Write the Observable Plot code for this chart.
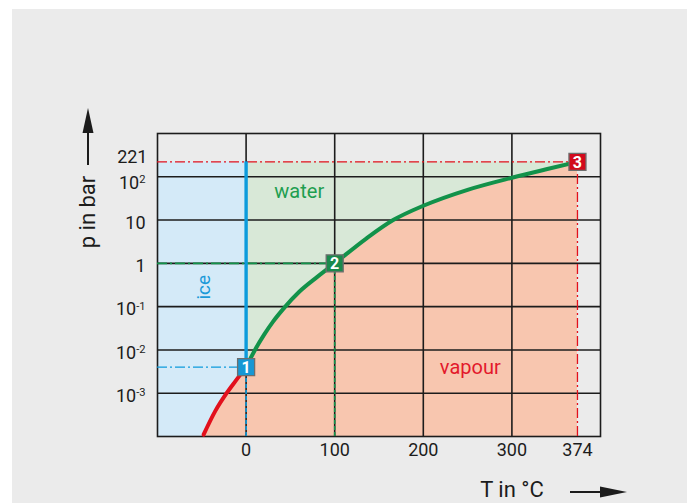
<!DOCTYPE html>
<html>
<head>
<meta charset="utf-8">
<script src="https://cdn.jsdelivr.net/npm/d3@7"></script>
<script src="https://cdn.jsdelivr.net/npm/@observablehq/plot@0.6"></script>
<style>
  html, body { margin: 0; padding: 0; background: #ffffff; }
  #wrap { position: relative; width: 687px; height: 503px; background: #ffffff; overflow: hidden; }
  #bg { position: absolute; left: 12px; top: 9px; right: 0; bottom: 0; background: #ebebeb; }
  #chart { position: absolute; left: 0; top: 0; }
</style>
</head>
<body>
<div id="wrap"><div id="bg"></div><div id="chart"></div></div>
<script>
(function() {
// ---- data ----
const xDomain = [-100, 400];          // T in °C
const yDomain = [1e-4, 1e3];          // p in bar (log)
const xGrid = [0, 100, 200, 300];
const yGrid = [1e-3, 1e-2, 1e-1, 1, 10, 100];
const xTicks = [0, 100, 200, 300, 374];
const xTickLabels = ["0", "100", "200", "300", "374"];
const yTicks = [1e-3, 1e-2, 1e-1, 1, 10, 100, 221];
const yTickLabels = ["10^-3", "10^-2", "10^-1", "1", "10", "10^2", "221"];

// sublimation curve (ice / vapour)
const subT = [-48, -35, -22, -12, 0];
const subP = [1.1e-4, 3.8e-4, 1e-3, 1.9e-3, 0.004];
// vapour pressure curve (water / vapour)
const vapT = [0, 10, 20, 30, 42, 60, 80, 100, 136, 166, 200, 250, 300, 340, 374];
const vapP = [0.004, 0.01, 0.022, 0.044, 0.089, 0.22, 0.48, 1, 3.8, 10, 21.4, 50, 95, 151, 221];

const tripleT = 0, tripleP = 0.004;
const boilT = 100, boilP = 1;
const critT = 374, critP = 221;

const markerNames = ["1", "2", "3"];
const markerT = [tripleT, boilT, critT];
const markerP = [tripleP, boilP, critP];

const regionNames = ["ice", "water", "vapour"];
const regionT = [-48, 60, 253];
const regionP = [0.28, 45, 0.004];

// ---- styles ----
const C = {
  ice: "#d4eaf8", water: "#d8e8d7", vapour: "#f8c6af",
  blue: "#0c9bdc", green: "#12924a", red: "#e2101c", grid: "#1c1c1c",
  m1: "#1797d4", m2: "#1a8a4c", m3: "#d20a1c",
  txtGreen: "#1e9e50", txtRed: "#e3192b", txtBlue: "#1b9ad8", ink: "#1c1c1c"
};
const FONT = "Roboto, 'DejaVu Sans', sans-serif";

const sub = subT.map((t, i) => ({T: t, p: subP[i]}));
const vap = vapT.map((t, i) => ({T: t, p: vapP[i]}));
const markers = markerNames.map((n, i) => ({n, T: markerT[i], p: markerP[i], c: [C.m1, C.m2, C.m3][i]}));
const regions = regionNames.map((n, i) => ({n, T: regionT[i], p: regionP[i]}));
const yTickData = yTicks.map((v, i) => ({v, label: yTickLabels[i]}));
const xTickData = xTicks.map((v, i) => ({v, label: xTickLabels[i]}));

const dashDot = "10,3,2,3";

const plot = Plot.plot({
  width: 687, height: 503,
  marginLeft: 157, marginRight: 87, marginTop: 133, marginBottom: 67,
  style: {background: "transparent", fontFamily: FONT, overflow: "visible"},
  x: {domain: xDomain, axis: null},
  y: {type: "log", domain: yDomain, axis: null},
  marks: [
    // regions
    Plot.rect([{x1: xDomain[0], x2: tripleT, y1: yDomain[0], y2: critP}], {x1: "x1", x2: "x2", y1: "y1", y2: "y2", fill: C.ice}),
    Plot.rect([{x1: tripleT, x2: critT, y1: yDomain[0], y2: critP}], {x1: "x1", x2: "x2", y1: "y1", y2: "y2", fill: C.water}),
    Plot.areaY(sub, {x: "T", y1: yDomain[0], y2: "p", fill: C.vapour, curve: "monotone-x"}),
    Plot.areaY(vap, {x: "T", y1: yDomain[0], y2: "p", fill: C.vapour, curve: "monotone-x"}),
    Plot.rect([{x1: -1, x2: 1, y1: yDomain[0], y2: tripleP}], {x1: "x1", x2: "x2", y1: "y1", y2: "y2", fill: C.vapour}),
    // grid + frame
    Plot.ruleX(xGrid, {stroke: C.grid, strokeWidth: 1.6}),
    Plot.ruleY(yGrid, {stroke: C.grid, strokeWidth: 1.6}),
    Plot.frame({stroke: C.grid, strokeWidth: 1.6}),
    // reference lines
    Plot.ruleY([tripleP], {x1: xDomain[0], x2: tripleT, stroke: C.blue, strokeWidth: 1.3, strokeDasharray: dashDot}),
    Plot.ruleX([tripleT], {y1: yDomain[0], y2: tripleP, stroke: C.blue, strokeWidth: 1.6, strokeDasharray: "4,2"}),
    Plot.ruleY([boilP], {x1: xDomain[0], x2: boilT, stroke: C.green, strokeWidth: 1.6, strokeDasharray: dashDot}),
    Plot.ruleX([boilT], {y1: yDomain[0], y2: boilP, stroke: C.green, strokeWidth: 1.6, strokeDasharray: "4,2"}),
    Plot.ruleY([critP], {x1: xDomain[0], x2: critT, stroke: C.red, strokeWidth: 1.3, strokeDasharray: dashDot}),
    Plot.ruleX([critT], {y1: yDomain[0], y2: critP, stroke: C.red, strokeWidth: 1.3, strokeDasharray: dashDot}),
    // phase boundaries
    Plot.ruleX([tripleT], {y1: tripleP, y2: critP, stroke: C.blue, strokeWidth: 3.4}),
    Plot.line(sub, {x: "T", y: "p", stroke: C.red, strokeWidth: 4, curve: "monotone-x", strokeLinecap: "round"}),
    Plot.line(vap, {x: "T", y: "p", stroke: C.green, strokeWidth: 4, curve: "monotone-x", strokeLinecap: "round"}),
    // markers
    Plot.dot(markers, {x: "T", y: "p", symbol: "square", r: 9.6, fill: "c", stroke: "#6e6e6e", strokeWidth: 1.3}),
    Plot.text(markers, {x: "T", y: "p", text: "n", fill: "white", fontSize: 16, fontWeight: "bold", dy: 1}),
    // region labels
    Plot.text(regions.filter(d => d.n === "water"), {x: "T", y: "p", text: "n", fill: C.txtGreen, fontSize: 20}),
    Plot.text(regions.filter(d => d.n === "vapour"), {x: "T", y: "p", text: "n", fill: C.txtRed, fontSize: 20}),
    Plot.text(regions.filter(d => d.n === "ice"), {x: "T", y: "p", text: "n", fill: C.txtBlue, fontSize: 19, rotate: -90}),
    // tick labels
    Plot.text(xTickData, {x: "v", text: "label", frameAnchor: "bottom", lineAnchor: "middle", dy: 14, fontSize: 18, fill: C.ink}),
    Plot.text(yTickData.filter(d => d.v < 100), {y: "v", text: "label", frameAnchor: "left", lineAnchor: "middle", dx: -12, dy: 3, textAnchor: "end", fontSize: 18, fill: C.ink}),
    Plot.text(yTickData.filter(d => d.v === 100), {y: "v", text: "label", frameAnchor: "left", lineAnchor: "middle", dx: -12, dy: 6, textAnchor: "end", fontSize: 18, fill: C.ink}),
    Plot.text(yTickData.filter(d => d.v > 100), {y: "v", text: "label", frameAnchor: "left", lineAnchor: "middle", dx: -10, dy: -5, textAnchor: "end", fontSize: 18, fill: C.ink})
  ]
});

document.getElementById("chart").appendChild(plot);

// superscripts in tick labels
d3.select(plot).selectAll("text").each(function() {
  const t = this.textContent;
  const m = t.match(/^10\^(.+)$/);
  if (m) {
    const s = d3.select(this);
    s.text(null);
    s.append("tspan").text("10");
    s.append("tspan").attr("dy", "-0.5em").attr("font-size", "0.62em").text(m[1]);
  }
});

// axis titles with arrows, positioned relative to the frame
const sx = plot.scale("x"), sy = plot.scale("y");
const fLeft = sx.apply(xDomain[0]), fRight = sx.apply(xDomain[1]);
const fTop = sy.apply(yDomain[1]), fBottom = sy.apply(yDomain[0]);
const svg = d3.select(plot);
const g = svg.append("g").attr("fill", C.ink).attr("font-family", FONT);

const ax = fLeft - 69;
g.append("text").attr("transform", `translate(${ax - 1},${fTop + 79}) rotate(-90)`)
  .attr("text-anchor", "middle").attr("dy", "0.35em").attr("font-size", 22).text("p in bar");
g.append("line").attr("x1", ax).attr("x2", ax).attr("y1", fTop + 32).attr("y2", fTop).attr("stroke", C.ink).attr("stroke-width", 2);
g.append("path").attr("d", `M${ax},${fTop - 25}L${ax - 5.5},${fTop}L${ax + 5.5},${fTop}Z`);

const ay = fBottom + 56;
g.append("text").attr("x", fRight - 88).attr("y", fBottom + 53).attr("text-anchor", "middle").attr("dy", "0.35em").attr("font-size", 22).text("T in °C");
g.append("line").attr("x1", fRight - 30).attr("x2", fRight + 2).attr("y1", ay).attr("y2", ay).attr("stroke", C.ink).attr("stroke-width", 2);
g.append("path").attr("d", `M${fRight + 27},${ay}L${fRight},${ay - 5.5}L${fRight},${ay + 5.5}Z`);
})();
</script>
</body>
</html>
